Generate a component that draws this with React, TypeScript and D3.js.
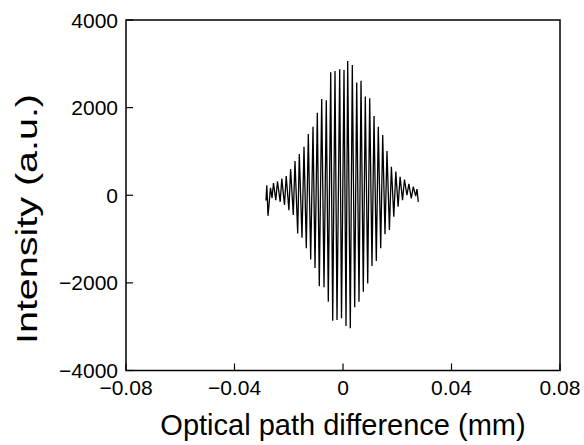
import React from "react";
import * as d3 from "d3";

// Optical path difference (mm) at each sampled extremum of the interferogram
const opd: number[] = [
  -0.02839, -0.02809, -0.02765, -0.02673, -0.02617, -0.02562, -0.02477, -0.02415,
  -0.02315, -0.02256, -0.02157, -0.02094, -0.01994, -0.01932, -0.01832, -0.0177,
  -0.0167, -0.01611, -0.01512, -0.01438, -0.01353, -0.01279, -0.01191, -0.01106,
  -0.01032, -0.00947, -0.00874, -0.00785, -0.007, -0.00616, -0.00542, -0.00453,
  -0.0038, -0.00295, -0.00221, -0.00122, -0.00055, 0.00037, 0.00111, 0.00173,
  0.00269, 0.00343, 0.00431, 0.00505, 0.0059, 0.00664, 0.00748, 0.00822,
  0.00911, 0.00984, 0.01069, 0.01143, 0.01228, 0.01301, 0.0139, 0.01464,
  0.01548, 0.01622, 0.01711, 0.01784, 0.01873, 0.01947, 0.02031, 0.02105,
  0.02194, 0.02267, 0.02356, 0.02429, 0.02518, 0.02592, 0.0268, 0.02728, 0.02776,
];

// Intensity (a.u.) at those positions
const intensity: number[] = [
  -120, 230, -470, 170, -60, 280, -110, 320,
  -150, 380, -220, 440, -340, 600, -450, 780,
  -870, 940, -970, 1108, -1210, 1399, -1467, 1565,
  -1658, 1884, -2077, 2197, -2100, 2168, -2431, 2807,
  -2864, 2837, -2848, 2876, -2810, 2860, -2985, 3065,
  -3038, 2974, -2558, 2574, -2431, 2612, -2203, 2253,
  -2012, 2216, -1615, 1809, -1501, 1565, -1211, 1375,
  -891, 1010, -790, 650, -490, 540, -260, 420,
  -110, 360, 0, 260, -70, 195, -20, 140, -150,
];

const xTicks: number[] = [-0.08, -0.04, 0, 0.04, 0.08];
const xTickLabels: string[] = ["\u22120.08", "\u22120.04", "0", "0.04", "0.08"];
const yTicks: number[] = [-4000, -2000, 0, 2000, 4000];
const yTickLabels: string[] = ["\u22124000", "\u22122000", "0", "2000", "4000"];

const xLabel = "Optical path difference (mm)";
const yLabel = "Intensity (a.u.)";

const W = 584;
const H = 445;
const left = 126;
const right = 560;
const top = 20;
const bottom = 370.5;
const FONT = "'Liberation Sans', Arial, Helvetica, sans-serif";

export default function App() {
  const x = d3.scaleLinear().domain([-0.08, 0.08]).range([left, right]);
  const y = d3.scaleLinear().domain([-4000, 4000]).range([bottom, top]);
  const pts: [number, number][] = opd.map((d, i) => [d, intensity[i]]);
  const line = d3
    .line<[number, number]>()
    .x((d) => x(d[0]))
    .y((d) => y(d[1]));

  return (
    <svg
      width={W}
      height={H}
      style={{ position: "absolute", left: 0, top: 0, background: "#fff" }}
      fontFamily={FONT}
    >
      <rect x={0} y={0} width={W} height={H} fill="#fff" />
      <path d={line(pts) || ""} fill="none" stroke="#000" strokeWidth={1.3} />
      <rect
        x={left}
        y={top}
        width={right - left}
        height={bottom - top}
        fill="none"
        stroke="#000"
        strokeWidth={1.5}
      />
      {xTicks.map((t, i) => (
        <g key={"x" + i}>
          <line x1={x(t)} x2={x(t)} y1={bottom} y2={bottom - 7} stroke="#000" strokeWidth={1.2} />
          <text x={x(t)} y={395} textAnchor="middle" fontSize={21} fill="#000">
            {xTickLabels[i]}
          </text>
        </g>
      ))}
      {yTicks.map((t, i) => (
        <g key={"y" + i}>
          <line x1={left} x2={left + 7} y1={y(t)} y2={y(t)} stroke="#000" strokeWidth={1.2} />
          <text
            x={118}
            y={y(t)}
            dy="0.36em"
            textAnchor="end"
            fontSize={21}
            fill="#000"
          >
            {yTickLabels[i]}
          </text>
        </g>
      ))}
      <text x={343} y={435} textAnchor="middle" fontSize={29} fill="#000">
        {xLabel}
      </text>
      <text
        transform={`translate(37,219) rotate(-90)`}
        x={-125}
        textAnchor="start"
        fontSize={30}
        textLength={250}
        lengthAdjust="spacingAndGlyphs"
        fill="#000"
      >
        {yLabel}
      </text>
    </svg>
  );
}
